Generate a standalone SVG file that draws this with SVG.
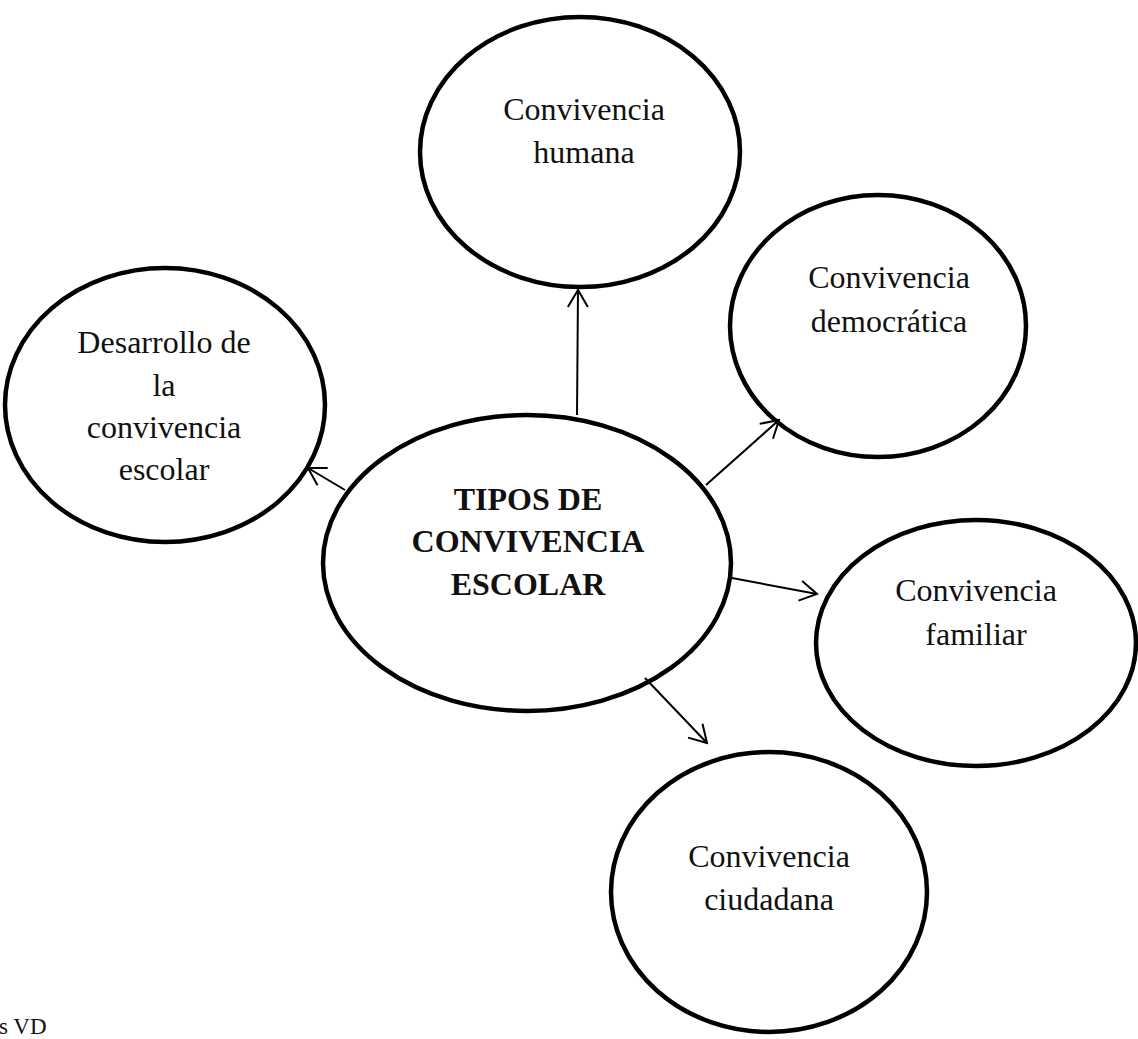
<svg xmlns="http://www.w3.org/2000/svg" width="1138" height="1039" viewBox="0 0 1138 1039">
  <style>
    .node ellipse { fill: #fff; stroke: #000; stroke-width: 4.5; }
    .lbl { font-family: "Liberation Serif", "Times New Roman", serif; font-size: 32px; fill: #111; text-anchor: middle; }
    .bold { font-weight: bold; }
    .conn line { stroke: #000; stroke-width: 2; marker-end: url(#arrow); }
    .note { font-family: "Liberation Serif", "Times New Roman", serif; font-size: 23px; fill: #111; }
  </style>
  <defs>
    <marker id="arrow" markerUnits="userSpaceOnUse" viewBox="0 0 20 22" refX="18" refY="11" markerWidth="20" markerHeight="22" orient="auto">
      <path d="M1,1 L18,11 L1,21" fill="none" stroke="#000" stroke-width="2"/>
    </marker>
  </defs>
  <rect width="1138" height="1039" fill="#fff"/>

  <g id="n-humana" class="node">
    <ellipse cx="580" cy="152" rx="160" ry="135"/>
    <text class="lbl" x="584" y="120">Convivencia</text>
    <text class="lbl" x="584" y="163">humana</text>
  </g>
  <g id="n-democratica" class="node">
    <ellipse cx="878" cy="326" rx="148" ry="131"/>
    <text class="lbl" x="889" y="288">Convivencia</text>
    <text class="lbl" x="889" y="332">democrática</text>
  </g>
  <g id="n-desarrollo" class="node">
    <ellipse cx="165" cy="405" rx="160" ry="137"/>
    <text class="lbl" x="164" y="353">Desarrollo de</text>
    <text class="lbl" x="164" y="396">la</text>
    <text class="lbl" x="164" y="438">convivencia</text>
    <text class="lbl" x="164" y="480">escolar</text>
  </g>
  <g id="n-familiar" class="node">
    <ellipse cx="976" cy="643" rx="160" ry="123"/>
    <text class="lbl" x="976" y="601">Convivencia</text>
    <text class="lbl" x="976" y="645">familiar</text>
  </g>
  <g id="n-ciudadana" class="node">
    <ellipse cx="769" cy="892" rx="158" ry="140"/>
    <text class="lbl" x="769" y="867">Convivencia</text>
    <text class="lbl" x="769" y="910">ciudadana</text>
  </g>
  <g id="n-central" class="node">
    <ellipse cx="527" cy="563" rx="204" ry="148"/>
    <text class="lbl bold" x="528" y="510">TIPOS DE</text>
    <text class="lbl bold" x="528" y="552">CONVIVENCIA</text>
    <text class="lbl bold" x="528" y="595">ESCOLAR</text>
  </g>

  <g id="connectors" class="conn">
    <line x1="577" y1="415" x2="578" y2="290"/>
    <line x1="706" y1="485" x2="779" y2="420"/>
    <line x1="345" y1="490" x2="308" y2="468"/>
    <line x1="732" y1="578" x2="817" y2="594"/>
    <line x1="645" y1="678" x2="707" y2="743"/>
  </g>

  <text class="note" x="-1" y="1034">s VD</text>
</svg>
